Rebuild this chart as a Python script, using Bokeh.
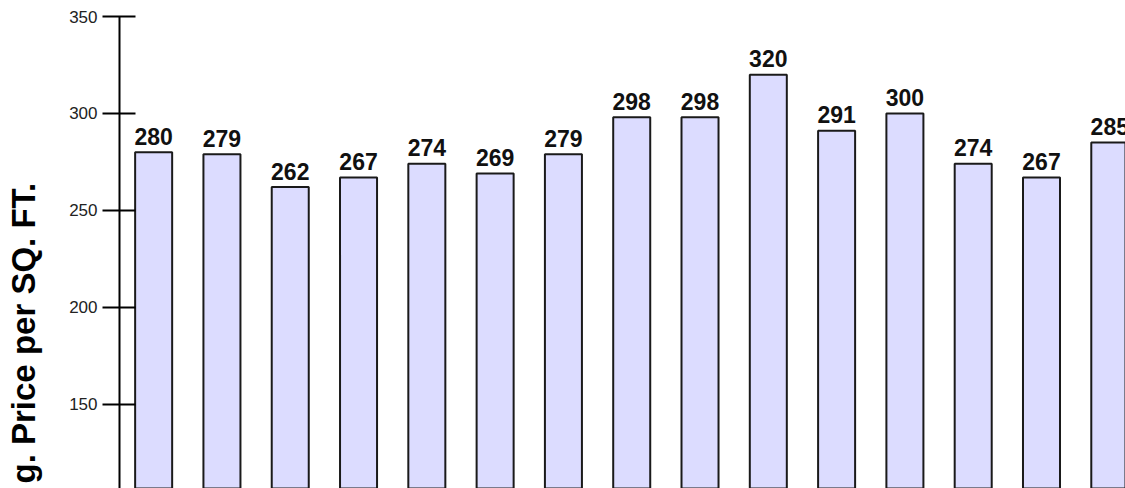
from bokeh.plotting import figure
from bokeh.models import FixedTicker, Title, ColumnDataSource
from bokeh.embed import file_html
from bokeh.resources import INLINE
from bokeh.core.properties import value

# ---- data ----
positions = list(range(1, 16))
prices = [280, 279, 262, 267, 274, 269, 279, 298, 298, 320, 291, 300, 274, 267, 285]
price_labels = [str(v) for v in prices]
y_ticks = [150, 200, 250, 300, 350]
axis_title = "g. Price per SQ. FT."

src = ColumnDataSource(dict(x=positions, top=prices, label=price_labels))

FONT = "Liberation Sans"

p = figure(width=1125, height=488, output_backend="svg", toolbar_location=None,
           x_range=(0.5, 15.23), y_range=(106.5, 350),
           x_axis_location=None,
           min_border_left=119, min_border_top=16, min_border_bottom=0, min_border_right=0)
p.grid.visible = False
p.outline_line_color = None
p.background_fill_color = "white"
p.border_fill_color = "white"

p.vbar(x="x", top="top", bottom=0, width=0.542, source=src,
       fill_color="#DCDCFF", line_color="#1a1a1a", line_width=2)

p.text(x="x", y="top", text="label", source=src, text_align="center",
       text_baseline="alphabetic", y_offset=-16,
       text_font=value(FONT), text_font_style="bold", text_font_size="23px",
       text_color="#111111")

ax = p.yaxis[0]
ax.ticker = FixedTicker(ticks=y_ticks)
ax.axis_line_color = "black"
ax.axis_line_width = 2
ax.major_tick_line_color = "black"
ax.major_tick_line_width = 2
ax.major_tick_out = 17
ax.major_tick_in = 16
ax.minor_tick_line_color = None
ax.major_label_standoff = 5
ax.major_label_text_font = FONT
ax.major_label_text_font_size = "17px"
ax.major_label_text_color = "#222222"

# blank spacer panel between the axis and the rotated title
spacer = Title(text=" ", standoff=20, text_font_size="1px")
p.add_layout(spacer, "left")

title = Title(text=axis_title, align="left", offset=5, standoff=4,
              text_font=FONT, text_font_style="bold", text_font_size="33px",
              text_color="#000000")
p.add_layout(title, "left")

open("out.html", "w").write(file_html(p, INLINE))
